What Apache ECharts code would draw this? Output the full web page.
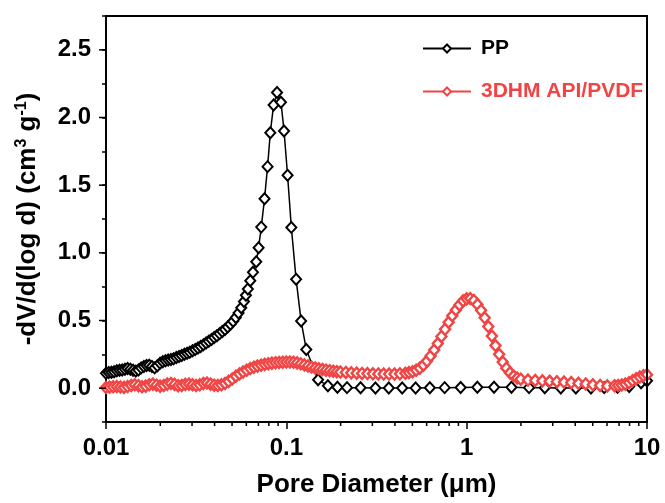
<!DOCTYPE html>
<html>
<head>
<meta charset="utf-8">
<script src="https://cdn.jsdelivr.net/npm/echarts@6/dist/echarts.min.js"></script>
<style>
html,body{margin:0;padding:0;background:#fff;}
#chart{width:665px;height:503px;}
</style>
</head>
<body>
<div id="chart"></div>
<script>
// ---- Data ----
const seriesNames = ['PP', '3DHM API/PVDF'];

const ppX = [0.01000,0.01035,0.01072,0.01109,0.01148,0.01189,0.01230,0.01274,0.01318,0.01365,
  0.01413,0.01462,0.01514,0.01567,0.01622,0.01679,0.01738,0.01799,0.01862,0.01928,
  0.01995,0.02065,0.02138,0.02213,0.02291,0.02371,0.02455,0.02541,0.02630,0.02723,
  0.02818,0.02917,0.03020,0.03126,0.03236,0.03350,0.03467,0.03589,0.03715,0.03846,
  0.03981,0.04121,0.04266,0.04416,0.04571,0.04732,0.04898,0.05070,0.05248,0.05433,
  0.05623,0.05821,0.0597,0.0612,0.0631,0.0653,0.0681,0.0702,0.0726,0.0757,
  0.0787,0.0815,0.0850,0.0888,0.0934,0.0971,0.1016,0.1066,0.1133,0.1208,
  0.1290,0.1500,0.1700,0.1920,0.217,0.258,0.312,0.370,0.439,0.521,
  0.625,0.755,0.926,1.146,1.418,1.772,2.218,2.712,3.326,4.03,
  4.89,5.79,6.87,7.97,9.27,10.0];
const ppY = [0.110,0.115,0.118,0.122,0.128,0.132,0.135,0.140,0.145,0.140,
  0.132,0.126,0.135,0.150,0.160,0.168,0.170,0.160,0.150,0.165,
  0.185,0.195,0.203,0.208,0.212,0.218,0.226,0.234,0.242,0.250,
  0.258,0.266,0.276,0.286,0.297,0.308,0.320,0.333,0.346,0.360,
  0.374,0.388,0.403,0.418,0.434,0.452,0.472,0.495,0.522,0.555,
  0.595,0.640,0.686,0.732,0.794,0.856,0.934,1.038,1.190,1.400,
  1.637,1.888,2.093,2.184,2.113,1.901,1.573,1.188,0.804,0.496,
  0.285,0.062,0.018,0.006,0.004,0.003,0.002,0.002,0.002,0.002,
  0.003,0.004,0.005,0.006,0.006,0.006,0.004,0.003,0.002,0.002,
  0.002,0.004,0.006,0.012,0.040,0.055];

const apiX = [0.01000,0.01047,0.01096,0.01148,0.01202,0.01259,0.01318,0.01380,0.01445,0.01514,
  0.01585,0.01660,0.01738,0.01820,0.01905,0.01995,0.02089,0.02188,0.02291,0.02399,
  0.02512,0.02630,0.02754,0.02884,0.03020,0.03162,0.03311,0.03467,0.03631,0.03802,
  0.03981,0.04169,0.04365,0.04571,0.04786,0.05012,0.05248,0.05495,0.05754,0.06026,
  0.06310,0.06607,0.06918,0.07244,0.07586,0.07943,0.08318,0.08710,0.09120,0.09550,
  0.1000,0.1047,0.1096,0.1148,0.1202,0.1259,0.1318,0.1380,0.1445,0.1514,
  0.1585,0.1660,0.1738,0.1820,0.1905,0.1995,0.2138,0.2291,0.2455,0.2630,
  0.2818,0.3020,0.3236,0.3467,0.3715,0.3981,0.4266,0.4571,0.4786,0.5012,
  0.5248,0.5495,0.5754,0.6026,0.6310,0.6607,0.6918,0.7244,0.7586,0.7943,
  0.8318,0.8710,0.9120,0.9550,1.000,1.047,1.096,1.148,1.202,1.259,
  1.318,1.380,1.445,1.514,1.585,1.660,1.738,1.820,1.905,1.995,
  2.188,2.399,2.630,2.884,3.162,3.467,3.802,4.169,4.571,5.012,
  5.495,6.026,6.607,6.918,7.244,7.586,7.943,8.318,8.710,9.120,
  9.550,10.00];
const apiY = [0.005,0.008,0.010,0.012,0.008,0.006,0.012,0.020,0.025,0.018,
  0.010,0.015,0.025,0.030,0.022,0.015,0.020,0.030,0.035,0.028,
  0.018,0.020,0.028,0.030,0.025,0.020,0.025,0.035,0.038,0.030,
  0.022,0.020,0.025,0.035,0.050,0.068,0.088,0.105,0.120,0.133,
  0.145,0.155,0.163,0.170,0.176,0.181,0.185,0.188,0.190,0.192,
  0.193,0.193,0.191,0.187,0.180,0.172,0.164,0.156,0.149,0.143,
  0.138,0.133,0.129,0.125,0.122,0.119,0.116,0.113,0.111,0.109,
  0.108,0.106,0.105,0.104,0.104,0.104,0.106,0.110,0.115,0.122,
  0.133,0.148,0.170,0.200,0.238,0.282,0.330,0.382,0.435,0.487,
  0.535,0.578,0.615,0.645,0.660,0.662,0.648,0.618,0.575,0.520,
  0.455,0.385,0.315,0.250,0.193,0.148,0.113,0.090,0.075,0.066,
  0.060,0.057,0.054,0.051,0.048,0.045,0.041,0.036,0.031,0.025,
  0.020,0.017,0.018,0.020,0.024,0.030,0.040,0.055,0.070,0.082,
  0.092,0.100];

// Axis ranges and tick positions
const xRange = [0.01, 10];
const yRange = [-0.25, 2.75];
const yMajorTicks = [0, 0.5, 1.0, 1.5, 2.0, 2.5];
const xMinorTicks = [0.02,0.03,0.04,0.05,0.06,0.07,0.08,0.09,
  0.2,0.3,0.4,0.5,0.6,0.7,0.8,0.9,
  2,3,4,5,6,7,8,9];

const RED = '#f04545';
const FONT = "'Liberation Sans', Arial, sans-serif";

const zip = (xs, ys) => xs.map((x, i) => [x, ys[i]]);

// Frame (top and right edges of the plot box), built from the axis ranges
const frameData = [[xRange[0], yRange[1]], [xRange[1], yRange[1]], [xRange[1], yRange[0]]];
// Minor x ticks as short segments below the x-axis, separated by gaps
const minorDepth = 0.03; // tick depth in y-data units (≈4 px)
const minorTickData = [];
xMinorTicks.forEach(v => {
  minorTickData.push([v, yRange[0]], [v, yRange[0] - minorDepth], [v, '-']);
});

const chart = echarts.init(document.getElementById('chart'));

const option = {
  animation: false,
  grid: {left: 106, right: 18, top: 16, bottom: 81, show: true, borderColor: '#000', borderWidth: 2},
  legend: {
    orient: 'vertical', left: 417, top: 33, itemGap: 22, itemWidth: 48, itemHeight: 10,
    textStyle: {fontFamily: FONT, fontWeight: 'bold', fontSize: 21, padding: [0, 0, 0, 5]},
    data: [
      {name: seriesNames[0], textStyle: {color: '#000'}},
      {name: seriesNames[1], textStyle: {color: RED}}
    ]
  },
  xAxis: {
    type: 'log', logBase: 10, min: xRange[0], max: xRange[1],
    name: 'Pore Diameter (μm)', nameLocation: 'middle', nameGap: 50,
    nameTextStyle: {fontFamily: FONT, fontWeight: 'bold', fontSize: 26, color: '#000'},
    axisLine: {show: true, onZero: false, lineStyle: {color: '#000', width: 2}},
    axisTick: {show: true, inside: false, length: 7, lineStyle: {color: '#000', width: 1.5}},
    axisLabel: {fontFamily: FONT, fontWeight: 'bold', fontSize: 24, color: '#000', margin: 14,
      formatter: v => String(v)},
    splitLine: {show: false}, minorTick: {show: false}
  },
  yAxis: {
    type: 'value', min: yRange[0], max: yRange[1], interval: 0.25,
    name: '-dV/d(log d) (cm{sup|3} g{sup|-1})', nameLocation: 'middle', nameGap: 64, nameRotate: 90,
    nameTextStyle: {fontFamily: FONT, fontWeight: 'bold', fontSize: 26, color: '#000',
      rich: {sup: {fontFamily: FONT, fontWeight: 'bold', fontSize: 16, verticalAlign: 'top', padding: [0, 0, 12, 0], color: '#000'}}},
    axisLine: {show: true, onZero: false, lineStyle: {color: '#000', width: 2}},
    axisTick: {show: true, inside: false, length: 4, lineStyle: {color: '#000', width: 1.5}},
    axisLabel: {fontFamily: FONT, fontWeight: 'bold', fontSize: 24, color: '#000', margin: 15,
      formatter: v => (Math.abs(v * 2 - Math.round(v * 2)) < 1e-6 ? v.toFixed(1) : '')},
    splitLine: {show: false}
  },
  series: [
    {
      name: seriesNames[0], type: 'line', data: zip(ppX, ppY),
      symbol: 'diamond', symbolSize: [10, 11], showAllSymbol: true,
      lineStyle: {color: '#000', width: 1.5},
      itemStyle: {color: '#fff', borderColor: '#000', borderWidth: 2},
      z: 2
    },
    {
      name: seriesNames[1], type: 'line', data: zip(apiX, apiY),
      symbol: 'diamond', symbolSize: [10, 11], showAllSymbol: true,
      lineStyle: {color: RED, width: 1.5},
      itemStyle: {color: '#fff', borderColor: RED, borderWidth: 2.4},
      z: 3
    },
    {
      name: 'frame', type: 'line', data: frameData, symbol: 'none', clip: false, silent: true,
      lineStyle: {color: '#000', width: 2}, itemStyle: {color: '#000'}, z: 10, legendHoverLink: false
    },
    {
      name: 'xminor', type: 'line', data: minorTickData, symbol: 'none', clip: false, silent: true,
      connectNulls: false, lineStyle: {color: '#000', width: 1.5}, itemStyle: {color: '#000'}, z: 10
    },
    {
      name: 'ymajor', type: 'custom', clip: false, silent: true, z: 5,
      data: yMajorTicks.map(v => [xRange[0], v]),
      renderItem: (params, api) => {
        const p = api.coord([api.value(0), api.value(1)]);
        return {type: 'line', shape: {x1: p[0], y1: p[1], x2: p[0] - 7, y2: p[1]}, style: {stroke: '#000', lineWidth: 1.5}};
      }
    }
  ]
};
chart.setOption(option);
</script>
</body>
</html>
